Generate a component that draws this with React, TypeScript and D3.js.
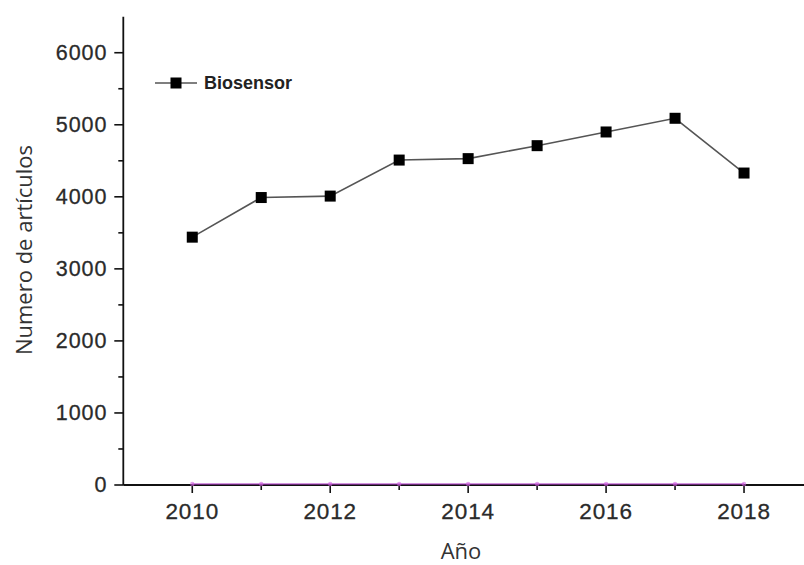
import React from "react";
import * as d3 from "d3";

const years = [2010, 2011, 2012, 2013, 2014, 2015, 2016, 2017, 2018];
const biosensor = [3440, 3990, 4010, 4510, 4530, 4710, 4900, 5090, 4330];
const baseline = [0, 0, 0, 0, 0, 0, 0, 0, 0];
const yMajorTicks = [0, 1000, 2000, 3000, 4000, 5000, 6000];
const yMinorTicks = [500, 1500, 2500, 3500, 4500, 5500];
const xMajorTicks = [2010, 2012, 2014, 2016, 2018];
const xMinorTicks = [2011, 2013, 2015, 2017];
const seriesName = "Biosensor";
const xTitle = "Año";
const yTitle = "Numero de artículos";

const W = 804;
const H = 565;

export default function App() {
  const x = d3.scaleLinear().domain([2009, 2019]).range([123.3, 813]);
  const y = d3.scaleLinear().domain([0, 6500]).range([485, 16.7]);
  const line = d3
    .line<number>()
    .x((_, i) => x(years[i]))
    .y((d) => y(d));
  const tickFont = "'Liberation Sans', Arial, sans-serif";
  const titleFont = "'Open Sans', 'Noto Sans', sans-serif";
  const ms = 11;

  return (
    <svg
      width={W}
      height={H}
      style={{ position: "absolute", left: 0, top: 0, background: "#fff" }}
    >
      <rect x={0} y={0} width={W} height={H} fill="#fff" />
      {/* axes */}
      <line x1={x(2009)} x2={W} y1={y(0)} y2={y(0)} stroke="#111" strokeWidth={1.8} />
      <line x1={x(2009)} x2={x(2009)} y1={y(6500)} y2={y(0)} stroke="#111" strokeWidth={1.8} />
      {yMajorTicks.map((t) => (
        <g key={"ym" + t}>
          <line x1={x(2009) - 9} x2={x(2009)} y1={y(t)} y2={y(t)} stroke="#111" strokeWidth={1.6} />
          <text
            x={x(2009) - 16}
            y={y(t) + 7}
            textAnchor="end"
            fontFamily={tickFont}
            fontSize={21.5}
            letterSpacing={0.9}
            fill="#2a2a2a"
            stroke="#2a2a2a"
            strokeWidth={0.3}
          >
            {t}
          </text>
        </g>
      ))}
      {yMinorTicks.map((t) => (
        <line key={"yn" + t} x1={x(2009) - 5} x2={x(2009)} y1={y(t)} y2={y(t)} stroke="#111" strokeWidth={1.6} />
      ))}
      {xMajorTicks.map((t) => (
        <g key={"xm" + t}>
          <line x1={x(t)} x2={x(t)} y1={y(0)} y2={y(0) + 8} stroke="#111" strokeWidth={1.6} />
          <text
            x={x(t)}
            y={y(0) + 34}
            textAnchor="middle"
            fontFamily={tickFont}
            fontSize={22.5}
            letterSpacing={0.9}
            fill="#2a2a2a"
            stroke="#2a2a2a"
            strokeWidth={0.3}
          >
            {t}
          </text>
        </g>
      ))}
      {xMinorTicks.map((t) => (
        <line key={"xn" + t} x1={x(t)} x2={x(t)} y1={y(0)} y2={y(0) + 5} stroke="#111" strokeWidth={1.6} />
      ))}
      {/* baseline series (magenta) */}
      <path
        d={line(baseline) || ""}
        fill="none"
        stroke="#b040c8"
        strokeWidth={1.5}
        opacity={0.75}
        transform="translate(0,-1)"
      />
      {years.map((yr, i) => (
        <circle
          key={"b" + i}
          cx={x(yr)}
          cy={y(baseline[i]) - 1}
          r={2.2}
          fill="#d060e0"
          opacity={0.6}
        />
      ))}
      {/* series */}
      <path d={line(biosensor) || ""} fill="none" stroke="#555" strokeWidth={1.6} />
      {biosensor.map((v, i) => (
        <rect
          key={"m" + i}
          x={x(years[i]) - ms / 2}
          y={y(v) - ms / 2}
          width={ms}
          height={ms}
          fill="#000"
        />
      ))}
      {/* legend */}
      <line x1={155} x2={197} y1={83} y2={83} stroke="#555" strokeWidth={1.6} />
      <rect x={176 - ms / 2} y={83 - ms / 2} width={ms} height={ms} fill="#000" />
      <text x={204} y={89} fontFamily={tickFont} fontWeight="bold" fontSize={18} fill="#222">
        {seriesName}
      </text>
      {/* titles */}
      <text x={461} y={559} textAnchor="middle" fontFamily={titleFont} fontSize={22} fill="#333">
        {xTitle}
      </text>
      <text
        transform="translate(32,250) rotate(-90)"
        textAnchor="middle"
        fontFamily={titleFont}
        fontSize={22}
        fill="#333"
      >
        {yTitle}
      </text>
    </svg>
  );
}
